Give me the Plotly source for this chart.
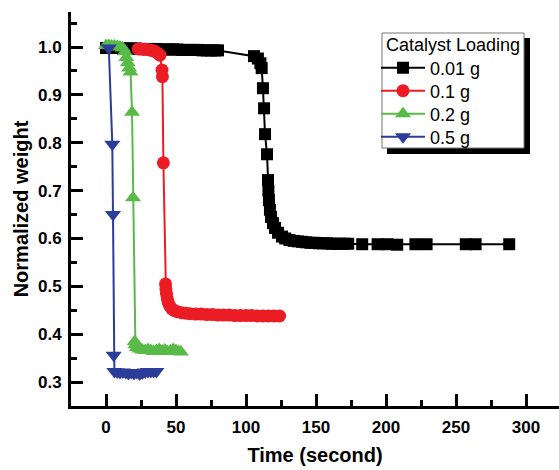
import plotly.graph_objects as go

# ---------------- data ----------------
t_001 = [0, 3, 6, 9, 12, 15, 18, 21, 24, 27, 30, 33, 36, 39, 42, 45, 48, 51, 54, 57,
         60, 63, 66, 69, 72, 75, 78, 80,
         105.7, 108.5, 110.3, 111.2, 112.1, 112.9, 113.6, 115.0, 115.7,
         116.0, 116.4, 117.1, 117.9, 119.3, 120.7, 122.9, 125.7, 128, 131, 134, 137,
         140, 143, 146, 149, 152, 155, 158, 161, 164, 167, 170, 173, 183, 194, 201, 208,
         221, 229, 257, 264, 288]
w_001 = [0.998, 0.998, 0.998, 0.998, 0.997, 0.997, 0.997, 0.997, 0.996, 0.996, 0.996, 0.996,
         0.996, 0.995, 0.995, 0.995, 0.995, 0.995, 0.994, 0.994,
         0.994, 0.994, 0.994, 0.993, 0.993, 0.993, 0.993, 0.993,
         0.981, 0.976, 0.966, 0.956, 0.914, 0.872, 0.818, 0.776, 0.722,
         0.700, 0.680, 0.660, 0.645, 0.632, 0.622, 0.612, 0.604, 0.600, 0.597, 0.595, 0.594,
         0.593, 0.592, 0.591, 0.591, 0.590, 0.590, 0.590, 0.589, 0.589, 0.589, 0.589, 0.589,
         0.588, 0.588, 0.588, 0.587, 0.588, 0.588, 0.588, 0.588, 0.588]

t_01 = [23, 25, 27, 29, 31, 33, 35, 37, 38.5,
        40.0, 40.3, 41.0, 42.5, 42.8, 43.2, 43.8, 44.5, 45.5, 47, 49, 51, 54, 57, 60,
        64, 68, 72, 76, 80, 84, 88, 92, 96, 100, 104, 108, 112, 116, 120, 124]
w_01 = [0.996, 0.996, 0.995, 0.995, 0.994, 0.993, 0.991, 0.987, 0.983,
        0.952, 0.938, 0.758, 0.505, 0.495, 0.484, 0.474, 0.466, 0.459, 0.453, 0.449,
        0.447, 0.445, 0.444, 0.443, 0.442, 0.442, 0.441, 0.441, 0.440, 0.440, 0.440,
        0.439, 0.439, 0.439, 0.439, 0.438, 0.438, 0.438, 0.438, 0.438]

t_02 = [0, 2, 4, 6, 8, 10, 12, 13.5, 14.5, 15.5, 16.5, 17.5, 18.6, 19.3,
        20.5, 21, 22, 24, 26, 28, 30, 32, 34, 36, 38, 40, 42, 44, 46, 48, 50, 52, 53.5]
w_02 = [1.003, 1.003, 1.002, 1.002, 1.001, 1.000, 0.998, 0.990, 0.978, 0.967, 0.956,
        0.948, 0.864, 0.685,
        0.385, 0.378, 0.372, 0.369, 0.367, 0.366, 0.368, 0.366, 0.364, 0.366, 0.368,
        0.365, 0.367, 0.364, 0.365, 0.368, 0.366, 0.364, 0.363]

t_05 = [2, 4.5, 5.0, 5.5, 6, 8, 10, 12, 14, 16, 18, 20, 22, 24, 26, 28, 30, 32, 34, 36]
w_05 = [0.998, 0.797, 0.650, 0.356, 0.322, 0.321, 0.320, 0.321, 0.320, 0.318, 0.320,
        0.318, 0.320, 0.317, 0.319, 0.321, 0.322, 0.322, 0.322, 0.322]

series_names = ["0.01 g", "0.1 g", "0.2 g", "0.5 g"]
legend_title = "Catalyst Loading"
x_ticks = [0, 50, 100, 150, 200, 250, 300]
y_ticks = [0.3, 0.4, 0.5, 0.6, 0.7, 0.8, 0.9, 1.0]
y_ticklabels = ["0.3", "0.4", "0.5", "0.6", "0.7", "0.8", "0.9", "1.0"]

# ---------------- figure ----------------
FONT = "Liberation Sans, Arial, sans-serif"
W, H = 559, 470
ML, MR, MT, MB = 71, 0, 12, 64
PW, PH = W - ML - MR, H - MT - MB

def px2paper(px, py):
    return (px - ML) / PW, (H - MB - py) / PH

fig = go.Figure()
styles = [
    ("#000000", "square", 12),
    ("#EC1C24", "circle", 13),
    ("#59BB47", "triangle-up", 14),
    ("#2B3C99", "triangle-down", 14),
]
legend_ids = ["legend", "legend2", "legend3", "legend4"]
entry_y_px = [68, 91, 114, 137]
data = [(t_001, w_001), (t_01, w_01), (t_02, w_02), (t_05, w_05)]
for (xs, ys), name, (col, sym, sz), lid in zip(data, series_names, styles, legend_ids):
    fig.add_trace(go.Scatter(
        x=xs, y=ys, name=name, mode="lines+markers", legend=lid,
        line=dict(color=col, width=2),
        marker=dict(color=col, symbol=sym, size=sz, line=dict(width=0)),
    ))

# legend box (white with grey border) and its black drop shadow
BX0, BY0, BX1, BY1 = 382, 33, 524, 148
sx0, sy0 = px2paper(BX0 + 5, BY1 + 6)
sx1, sy1 = px2paper(BX1 + 6, BY0 + 5)
fig.add_shape(type="rect", xref="paper", yref="paper", x0=sx0, x1=sx1, y0=sy0, y1=sy1,
              fillcolor="black", line=dict(width=0), layer="above")
bx0, by0 = px2paper(BX0, BY1)
bx1, by1 = px2paper(BX1, BY0)
fig.add_shape(type="rect", xref="paper", yref="paper", x0=bx0, x1=bx1, y0=by0, y1=by1,
              fillcolor="white", line=dict(width=1, color="#777777"), layer="above")

tx, ty = px2paper(BX0 + 2, 45)
fig.add_annotation(x=tx, y=ty, xref="paper", yref="paper", xanchor="left", yanchor="middle",
                   text=legend_title, showarrow=False,
                   font=dict(family=FONT, size=18, color="black"))

legends = {}
for lid, ypx in zip(legend_ids, entry_y_px):
    lx, ly = px2paper(376, ypx)
    legends[lid] = dict(
        x=lx, y=ly, xanchor="left", yanchor="middle",
        bgcolor="rgba(0,0,0,0)", borderwidth=0,
        font=dict(family=FONT, size=18, color="black"),
        itemwidth=44, tracegroupgap=0,
    )

fig.update_layout(
    width=W, height=H,
    margin=dict(l=ML, r=MR, t=MT, b=MB, pad=0),
    paper_bgcolor="white", plot_bgcolor="white",
    font=dict(family=FONT, color="black"),
    showlegend=True,
    **legends,
    xaxis=dict(
        range=[-25, -25 + PW / 1.4], tickmode="array", tickvals=x_ticks,
        ticks="inside", ticklen=12, tickwidth=2.5, tickcolor="black",
        showline=True, linewidth=3, linecolor="black",
        showgrid=False, zeroline=False,
        minor=dict(dtick=25, tick0=0, ticks="inside", ticklen=6, tickwidth=2.5, tickcolor="black", showgrid=False),
        tickfont=dict(family=FONT, size=17, color="black", weight="bold"),
        ticklabelstandoff=4,
        title=dict(text="Time (second)", font=dict(family=FONT, size=20, color="black", weight="bold"), standoff=12),
    ),
    yaxis=dict(
        range=[0.25, 0.25 + PH / 478.6], tickmode="array", tickvals=y_ticks, ticktext=y_ticklabels,
        ticks="inside", ticklen=12, tickwidth=2.5, tickcolor="black",
        showline=True, linewidth=3, linecolor="black",
        showgrid=False, zeroline=False,
        minor=dict(dtick=0.05, tick0=0.25, ticks="inside", ticklen=6, tickwidth=2.5, tickcolor="black", showgrid=False),
        tickfont=dict(family=FONT, size=17, color="black", weight="bold"),
        ticklabelstandoff=3,
        title=dict(text="Normalized weight", font=dict(family=FONT, size=20, color="black", weight="bold"), standoff=4),
    ),
)

fig.write_html("out.html")
